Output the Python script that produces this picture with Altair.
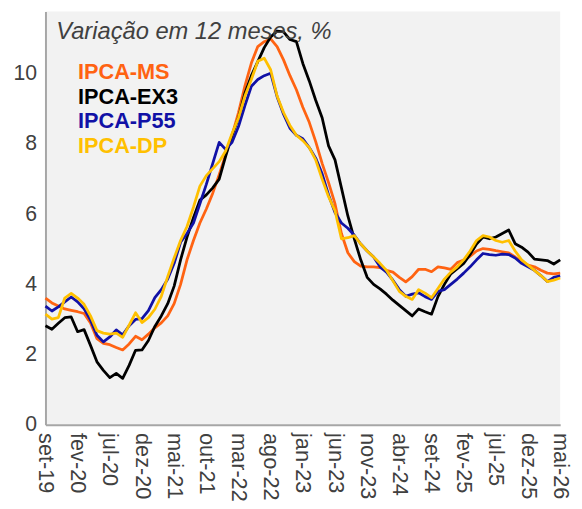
import altair as alt
import pandas as pd

tick_labels = ["set-19", "fev-20", "jul-20", "dez-20", "mai-21", "out-21", "mar-22",
               "ago-22", "jan-23", "jun-23", "nov-23", "abr-24", "set-24", "fev-25",
               "jul-25", "dez-25", "mai-26"]
y_ticks = [0, 2, 4, 6, 8, 10]
series_names = ["IPCA-MS", "IPCA-EX3", "IPCA-P55", "IPCA-DP"]
series_colors = ["#FF6312", "#000000", "#1111A6", "#FFC000"]

ipca_ms = [3.61, 3.47, 3.38, 3.30, 3.26, 3.22, 3.17, 2.90, 2.45, 2.32, 2.28, 2.20, 2.13, 2.30, 2.52, 2.42, 2.58, 2.76, 2.90, 3.10, 3.45,
           4.00, 4.70, 5.25, 5.75, 6.15, 6.60, 7.13, 7.70, 8.25, 8.90,
           9.66, 10.31, 10.78, 10.92, 11.00, 10.78, 10.40, 9.95, 9.55, 9.05,
           8.62, 8.07, 7.45, 6.90, 6.30, 5.45, 4.90, 4.65, 4.52, 4.50,
           4.50, 4.48, 4.40, 4.35, 4.20, 4.07, 4.22, 4.43, 4.43, 4.36,
           4.50, 4.47, 4.43, 4.62, 4.69, 4.80, 4.95, 5.02, 5.00, 4.96,
           4.93, 4.90, 4.78, 4.65, 4.55, 4.50, 4.40, 4.32, 4.30, 4.32]
ipca_ex3 = [2.82, 2.72, 2.89, 3.05, 3.07, 2.65, 2.71, 2.26, 1.79, 1.55, 1.34, 1.46, 1.32, 1.69, 2.12, 2.13, 2.40, 2.80, 3.10, 3.45, 3.95,
            4.70, 5.35, 5.90, 6.40, 6.55, 6.75, 7.00, 7.65, 8.25, 8.75,
            9.45, 9.95, 10.35, 10.75, 11.05, 11.22, 11.20, 10.98, 10.92, 10.30,
            9.80, 9.25, 8.75, 7.95, 7.55, 6.75, 5.95, 5.30, 4.70, 4.20,
            4.00, 3.87, 3.72, 3.55, 3.40, 3.25, 3.10, 3.30, 3.22, 3.15,
            3.65, 4.00, 4.30, 4.45, 4.60, 4.85, 5.15, 5.35, 5.30, 5.35,
            5.45, 5.55, 5.16, 5.06, 4.92, 4.72, 4.70, 4.68, 4.58, 4.70]
ipca_p55 = [3.38, 3.24, 3.36, 3.50, 3.64, 3.50, 3.30, 2.98, 2.55, 2.36, 2.50, 2.70, 2.56, 2.82, 3.00, 3.02, 3.25, 3.62, 3.85, 4.15, 4.60,
            5.20, 5.45, 5.75, 6.30, 6.85, 7.45, 8.05, 7.85, 8.05, 8.50,
            9.10, 9.65, 9.84, 9.95, 10.02, 9.35, 8.85, 8.45, 8.25, 8.15,
            7.90, 7.60, 7.15, 6.55, 6.05, 5.75, 5.60, 5.40, 5.15, 4.95,
            4.78, 4.50, 4.35, 4.12, 3.85, 3.66, 3.72, 3.76, 3.65, 3.57,
            3.80, 3.85, 4.00, 4.15, 4.32, 4.50, 4.70, 4.88, 4.85, 4.83,
            4.86, 4.85, 4.75, 4.60, 4.50, 4.40, 4.25, 4.08, 4.20, 4.24]
ipca_dp = [3.15, 3.01, 3.05, 3.61, 3.74, 3.61, 3.43, 3.10, 2.68, 2.61, 2.58, 2.61, 2.49, 2.84, 3.19, 2.91, 3.05, 3.29, 3.66, 4.22, 4.75,
           5.25, 5.65, 6.20, 6.80, 7.10, 7.30, 7.50, 7.80, 8.30, 8.75,
           9.37, 9.84, 10.36, 10.45, 10.12, 9.37, 8.90, 8.53, 8.25, 8.10,
           7.90, 7.55, 7.00, 6.50, 6.10, 5.30, 5.33, 5.39, 5.15, 4.95,
           4.78, 4.60, 4.40, 4.10, 3.80, 3.66, 3.57, 3.85, 3.75, 3.62,
           3.88, 4.15, 4.35, 4.50, 4.70, 4.95, 5.25, 5.39, 5.35, 5.25,
           5.20, 5.25, 4.95, 4.70, 4.55, 4.40, 4.25, 4.08, 4.12, 4.18]

all_series = [ipca_ms, ipca_ex3, ipca_p55, ipca_dp]
rows = []
for k, (name, vals) in enumerate(zip(series_names, all_series)):
    for i, v in enumerate(vals):
        rows.append({"mes": i, "serie": name, "ordem": k, "valor": v})
df = pd.DataFrame(rows)

n_last = len(ipca_ms) - 1
step = n_last // (len(tick_labels) - 1)
label_expr = "[" + ",".join("'%s'" % t for t in tick_labels) + "][round(datum.value/%d)]" % step

FONT = "Liberation Sans"
W, H = 522, 419

x_enc = alt.X("mes:Q",
              scale=alt.Scale(domain=[0, n_last], nice=False, zero=False),
              axis=alt.Axis(values=list(range(0, n_last + 1, step)), labelExpr=label_expr,
                            labelAngle=90, labelAlign="left", labelBaseline="middle",
                            labelPadding=8, ticks=False, grid=False, title=None,
                            domainColor="#A6A6A6", domainWidth=2, labelFont=FONT,
                            labelFontSize=22, labelColor="#404040", labelOverlap=False))
y_enc = alt.Y("valor:Q",
              scale=alt.Scale(domain=[0, 11.78], nice=False),
              axis=alt.Axis(values=y_ticks, ticks=False, grid=False, title=None,
                            labelPadding=9, domainColor="#A6A6A6", domainWidth=2,
                            labelFont=FONT, labelFontSize=21.5, labelColor="#404040"))

layers = []
for name, col in zip(series_names, series_colors):
    layers.append(
        alt.Chart(df).transform_filter(alt.datum.serie == name)
        .mark_line(strokeWidth=2.8, color=col, strokeJoin="round")
        .encode(x=x_enc, y=y_enc)
    )

title_txt = alt.Chart(pd.DataFrame({"t": ["Variação em 12 meses, %"]})).mark_text(
    align="left", baseline="alphabetic", font=FONT, fontSize=24, fontStyle="italic",
    color="#404040").encode(text="t:N", x=alt.value(11), y=alt.value(28))
layers.append(title_txt)

leg_y = [68, 93.5, 118, 143.5]
for name, col, yy in zip(series_names, series_colors, leg_y):
    layers.append(
        alt.Chart(pd.DataFrame({"t": [name]})).mark_text(
            align="left", baseline="alphabetic", font=FONT, fontSize=22,
            fontWeight="bold", color=col).encode(text="t:N", x=alt.value(33), y=alt.value(yy))
    )

chart = alt.layer(*layers).properties(
    width=W, height=H,
    autosize=alt.AutoSizeParams(type="none"),
    padding={"left": 38, "top": 0, "right": 14, "bottom": 82},
    background="white",
).configure_view(fill="#F2F2F2", stroke=None)

chart.save("out.html", embed_options={"renderer": "svg", "actions": False})
